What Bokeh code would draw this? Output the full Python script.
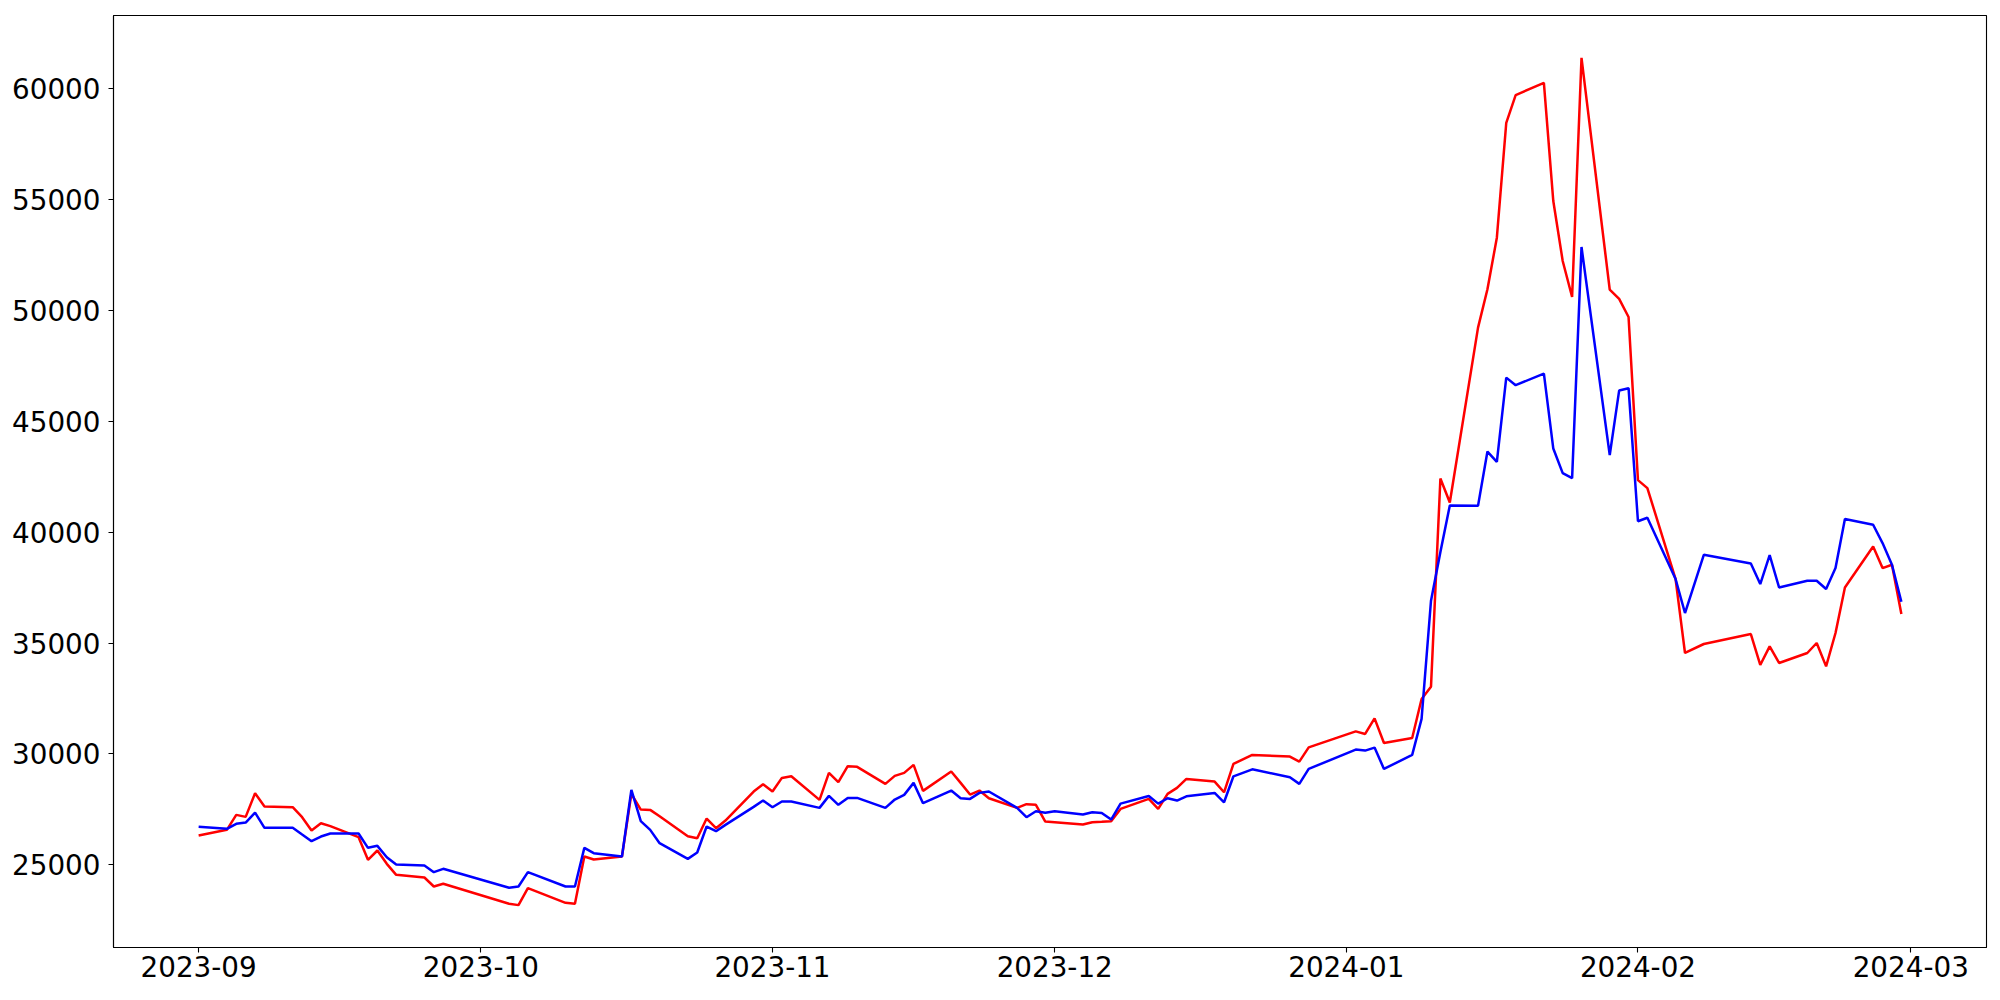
import numpy as np
import pandas as pd
from bokeh.plotting import figure
from bokeh.models import Range1d, FixedTicker, DatetimeTickFormatter, ColumnDataSource
from bokeh.embed import file_html
from bokeh.resources import INLINE

dates = [
    "2023-09-01", "2023-09-04", "2023-09-05", "2023-09-06", "2023-09-07", "2023-09-08",
    "2023-09-11", "2023-09-12", "2023-09-13", "2023-09-14", "2023-09-15",
    "2023-09-18", "2023-09-19", "2023-09-20", "2023-09-21", "2023-09-22",
    "2023-09-25", "2023-09-26", "2023-09-27",
    "2023-10-04", "2023-10-05", "2023-10-06",
    "2023-10-10", "2023-10-11", "2023-10-12", "2023-10-13",
    "2023-10-16", "2023-10-17", "2023-10-18", "2023-10-19", "2023-10-20",
    "2023-10-23", "2023-10-24", "2023-10-25", "2023-10-26", "2023-10-27",
    "2023-10-30", "2023-10-31", "2023-11-01", "2023-11-02", "2023-11-03",
    "2023-11-06", "2023-11-07", "2023-11-08", "2023-11-09", "2023-11-10",
    "2023-11-13", "2023-11-14", "2023-11-15", "2023-11-16", "2023-11-17",
    "2023-11-20", "2023-11-21", "2023-11-22", "2023-11-23", "2023-11-24",
    "2023-11-27", "2023-11-28", "2023-11-29", "2023-11-30", "2023-12-01",
    "2023-12-04", "2023-12-05", "2023-12-06", "2023-12-07", "2023-12-08",
    "2023-12-11", "2023-12-12", "2023-12-13", "2023-12-14", "2023-12-15",
    "2023-12-18", "2023-12-19", "2023-12-20", "2023-12-22",
    "2023-12-26", "2023-12-27", "2023-12-28",
    "2024-01-02", "2024-01-03", "2024-01-04", "2024-01-05",
    "2024-01-08", "2024-01-09", "2024-01-10", "2024-01-11", "2024-01-12",
    "2024-01-15", "2024-01-16", "2024-01-17", "2024-01-18", "2024-01-19",
    "2024-01-22", "2024-01-23", "2024-01-24", "2024-01-25", "2024-01-26",
    "2024-01-29", "2024-01-30", "2024-01-31", "2024-02-01", "2024-02-02",
    "2024-02-05", "2024-02-06", "2024-02-08",
    "2024-02-13", "2024-02-14", "2024-02-15", "2024-02-16",
    "2024-02-19", "2024-02-20", "2024-02-21", "2024-02-22", "2024-02-23",
    "2024-02-26", "2024-02-27", "2024-02-28", "2024-02-29",
]

red_values = [
    26321, 26577, 27252, 27162, 28228, 27628,
    27598, 27147, 26547, 26877, 26747,
    26246, 25225, 25646, 25045, 24550,
    24429, 24024, 24144,
    23243, 23183, 23949,
    23288, 23243, 25375, 25240,
    25375, 28198, 27492, 27477, 27190,
    26291, 26201, 27087, 26652, 26997,
    28304, 28634, 28304, 28919, 28995,
    27928, 29145, 28724, 29446, 29416,
    28649, 29010, 29145, 29505, 28334,
    29205, 28694, 28169, 28349, 28003,
    27568, 27733, 27703, 26952, 26922,
    26817, 26922, 26940, 26965, 27522,
    27973, 27522, 28198, 28468, 28874,
    28752, 28270, 29550, 29955,
    29878, 29653, 30297,
    31018, 30900, 31604, 30495,
    30721, 32477, 33032, 42414, 41333,
    49216, 50946, 53270, 58450, 59698,
    60254, 54923, 52221, 50599, 61378,
    50930, 50510, 49698, 42342, 41982,
    37883, 34550, 34955,
    35405, 34009, 34847, 34099,
    34550, 35000, 33946, 35450, 37505,
    39351, 38378, 38527, 36306,
]

blue_values = [
    26712, 26622, 26847, 26907, 27357, 26667,
    26667, 26366, 26066, 26276, 26411,
    26411, 25766, 25856, 25345, 25015,
    24970, 24670, 24820,
    23964, 24024, 24670,
    24024, 24024, 25766, 25526,
    25375, 28378, 26967, 26577, 25976,
    25270, 25555, 26727, 26517, 26802,
    27613, 27898, 27598, 27853, 27853,
    27568, 28109, 27703, 28018, 28018,
    27568, 27943, 28154, 28694, 27778,
    28349, 28003, 27973, 28244, 28304,
    27568, 27147, 27418, 27343, 27418,
    27267, 27373, 27340, 27040, 27760,
    28100, 27760, 28000, 27896, 28091,
    28243, 27820, 28991, 29306,
    28946, 28649, 29324,
    30194, 30149, 30284, 29324,
    29955, 31577, 36905, 39100, 41200,
    41185, 43631, 43167, 46964, 46622,
    47144, 43766, 42658, 42432, 52851,
    43470, 46380, 46486, 40490, 40645,
    37883, 36351, 38977,
    38586, 37658, 38964, 37505,
    37806, 37806, 37433, 38378, 40586,
    40329, 39505, 38527, 36860,
]

y_ticks = [25000, 30000, 35000, 40000, 45000, 50000, 55000, 60000]
x_tick_dates = ["2023-09-01", "2023-10-01", "2023-11-01", "2023-12-01",
                "2024-01-01", "2024-02-01", "2024-03-01"]


def to_ms(strs):
    return pd.to_datetime(strs).values.astype("datetime64[ms]").astype("int64").astype(float)


x_ms = to_ms(dates)
src = ColumnDataSource(dict(x=x_ms, red=red_values, blue=blue_values))

xspan = x_ms.max() - x_ms.min()
x_range = Range1d(x_ms.min() - 0.05 * xspan, x_ms.max() + 0.05 * xspan)
all_vals = np.array(red_values + blue_values, dtype=float)
yspan = all_vals.max() - all_vals.min()
y_range = Range1d(all_vals.min() - 0.05 * yspan, all_vals.max() + 0.05 * yspan)

p = figure(width=1992, height=992, x_axis_type="datetime",
           x_range=x_range, y_range=y_range,
           output_backend="svg", toolbar_location=None,
           min_border_left=113, min_border_right=6,
           min_border_top=15, min_border_bottom=45)

p.background_fill_color = "white"
p.border_fill_color = "white"
p.outline_line_color = "black"
p.outline_line_width = 1.1
p.xgrid.grid_line_color = None
p.ygrid.grid_line_color = None

p.line("x", "red", source=src, line_color="#ff0000", line_width=2.5)
p.line("x", "blue", source=src, line_color="#0000ff", line_width=2.5)

p.xaxis.ticker = FixedTicker(ticks=list(to_ms(x_tick_dates)))
fmt = "%Y-%m"
p.xaxis.formatter = DatetimeTickFormatter(
    microseconds=fmt, milliseconds=fmt, seconds=fmt, minsec=fmt, minutes=fmt,
    hourmin=fmt, hours=fmt, days=fmt, months=fmt, years=fmt)
p.yaxis.ticker = FixedTicker(ticks=y_ticks)

for ax in (p.xaxis, p.yaxis):
    ax.axis_line_color = "black"
    ax.axis_line_width = 1.1
    ax.major_tick_line_color = "black"
    ax.major_tick_line_width = 1.1
    ax.major_tick_out = 5
    ax.major_tick_in = 0
    ax.minor_tick_out = 0
    ax.minor_tick_in = 0
    ax.major_label_text_font = "DejaVu Sans"
    ax.major_label_text_font_size = "27.8px"
    ax.major_label_text_color = "black"

p.yaxis.major_label_standoff = 8
p.xaxis.major_label_standoff = 3

open("out.html", "w").write(file_html(p, INLINE))
